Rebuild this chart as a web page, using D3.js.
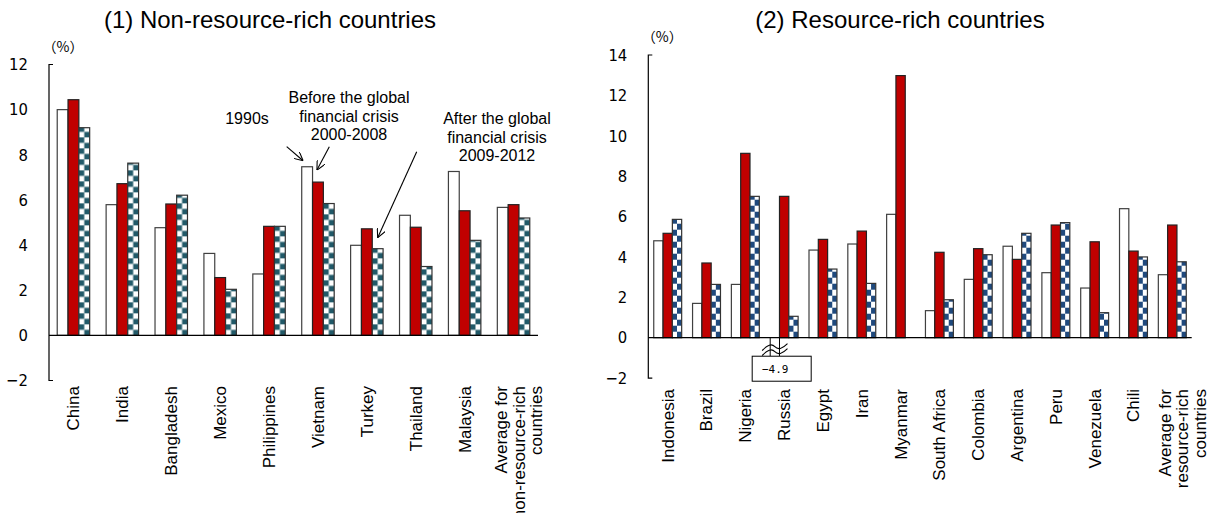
<!DOCTYPE html>
<html>
<head>
<meta charset="utf-8">
<script src="https://cdn.jsdelivr.net/npm/d3@7"></script>
<style>
  body { margin: 0; background: #fff; }
  text { font-family: Arial, "Liberation Sans", sans-serif; fill: #000; }
  .tick-lab { font-family: "Liberation Sans Narrow", "DejaVu Sans Condensed", Arial, sans-serif; }
</style>
</head>
<body>
<script>
'use strict';

// (1) non-resource-rich countries
const cats1 = ["China", "India", "Bangladesh", "Mexico", "Philippines", "Vietnam", "Turkey",
               "Thailand", "Malaysia", "Average for|non-resource-rich|countries"];
const s1990 = [10.0, 5.79, 4.77, 3.63, 2.72, 7.47, 3.99, 5.32, 7.26, 5.67];
const s2000 = [10.44, 6.72, 5.82, 2.56, 4.83, 6.79, 4.72, 4.79, 5.52, 5.79];
const s2009 = [9.2, 7.63, 6.21, 2.04, 4.83, 5.84, 3.84, 3.05, 4.21, 5.2];
const ticks1 = [-2, 0, 2, 4, 6, 8, 10, 12];

// (2) resource-rich countries
const cats2 = ["Indonesia", "Brazil", "Nigeria", "Russia", "Egypt", "Iran", "Myanmar", "South Africa",
               "Colombia", "Argentina", "Peru", "Venezuela", "Chili", "Average for|resource-rich|countries"];
const r1990 = [4.80, 1.70, 2.64, -4.9, 4.34, 4.64, 6.11, 1.34, 2.89, 4.53, 3.22, 2.46, 6.39, 3.12];
const r2000 = [5.17, 3.70, 9.13, 7.0, 4.87, 5.28, 12.98, 4.23, 4.41, 3.88, 5.58, 4.75, 4.29, 5.58];
const r2009 = [5.86, 2.64, 7.0, 1.06, 3.40, 2.69, null, 1.88, 4.11, 5.17, 5.70, 1.24, 4.0, 3.76];
const ticks2 = [-2, 0, 2, 4, 6, 8, 10, 12, 14];

const svg = d3.select('body').append('svg')
  .attr('width', 1207)
  .attr('height', 513);

const defs = svg.append('defs');
let patCount = 0;

// checkerboard fill anchored on a bar
function checker(color, x0, y0, w, h) {
  let id = 'pat' + (patCount++);
  let p = defs.append('pattern')
    .attr('id', id)
    .attr('patternUnits', 'userSpaceOnUse')
    .attr('x', x0).attr('y', y0)
    .attr('width', w * 2)
    .attr('height', h * 2);
  p.append('rect').attr('width', w * 2).attr('height', h * 2).attr('fill', '#fff');
  p.append('rect').attr('y', 0).attr('width', w).attr('height', h).attr('fill', color);
  p.append('rect').attr('x', w).attr('y', h).attr('width', w).attr('height', h).attr('fill', color);
  return 'url(#' + id + ')';
}

function drawPanel(opt) {
  const y = d3.scaleLinear().domain(opt.domain).range(opt.yRange);
  const x = d3.scaleBand().domain(opt.cats).range(opt.xRange).paddingInner(0).paddingOuter(0);
  const inner = d3.scaleBand().domain([0, 1, 2]).range([0, x.bandwidth()]).paddingOuter(opt.pad);
  const g = svg.append('g');

  // y axis (only end caps, no inner ticks)
  const yAxis = d3.axisLeft(y).tickValues(opt.ticks).tickSize(0).tickPadding(21)
    .tickFormat(d => d < 0 ? '\u2212' + Math.abs(d) : d);
  const ya = g.append('g')
    .attr('transform', `translate(${opt.xRange[0]},0)`)
    .call(yAxis);
  ya.select('.domain').attr('stroke', '#000').attr('stroke-width', 1.2)
    .attr('d', `M4,${y(opt.domain[1])}H0V${y(opt.domain[0])}H4`);
  ya.selectAll('.tick text').attr('class', 'tick-lab').style('font-size', '16.5px').attr('fill', '#000');

  // bars
  const series = [
    { vals: opt.a, color: null, fill: '#fff', stroke: '#404040' },
    { vals: opt.b, color: null, fill: '#C00000', stroke: '#222' },
    { vals: opt.c, color: opt.patColor, stroke: '#333' }
  ];
  series.forEach((s, si) => {
    const rows = opt.cats.map((c, i) => ({ c: c, v: s.vals[i] }))
      .filter(d => d.v !== null && !(opt.broken && d.c === opt.broken && si === 0));
    g.selectAll(null)
      .data(rows)
      .enter().append('rect')
      .attr('x', d => x(d.c) + inner(si))
      .attr('y', d => y(Math.max(0, d.v)))
      .attr('width', inner.bandwidth())
      .attr('height', d => Math.abs(y(d.v) - y(0)))
      .attr('fill', d => s.color ? checker(s.color, x(d.c) + inner(si), y(0), inner.bandwidth() / 2, opt.patH) : s.fill)
      .attr('stroke', s.stroke)
      .attr('stroke-width', 1.2);
  });

  // zero line
  g.append('line')
    .attr('x1', opt.xRange[0]).attr('x2', opt.xRange[1])
    .attr('y1', y(0)).attr('y2', y(0))
    .attr('stroke', '#000').attr('stroke-width', 1.2);

  // category labels
  const labs = g.selectAll(null)
    .data(opt.cats)
    .enter().append('text')
    .attr('transform', d => {
      let lines = d.split('|').length;
      let cx = x(d) + x.bandwidth() / 2 + (lines > 1 ? opt.avgShift : 0);
      return `translate(${cx},${opt.labTop}) rotate(-90)`;
    })
    .attr('text-anchor', 'end')
    .style('font-size', opt.labSize + 'px');
  labs.each(function(d) {
    const lines = d.split('|');
    const t = d3.select(this);
    lines.forEach((l, i) => {
      t.append('tspan')
        .attr('x', 0)
        .attr('dy', i === 0 ? (0.35 - (lines.length - 1) * 0.52) + 'em' : '1.04em')
        .text(l);
    });
  });

  // title and unit
  g.append('text')
    .attr('x', opt.titleX).attr('y', 28)
    .attr('text-anchor', 'middle')
    .style('font-size', '24px')
    .text(opt.title);
  g.append('text')
    .attr('x', opt.xRange[0] + 14).attr('y', y(opt.domain[1]) - 13)
    .attr('text-anchor', 'middle')
    .style('font-family', '"Noto Sans CJK JP", sans-serif')
    .style('font-size', '14px')
    .text('（%）');

  return { x: x, y: y, inner: inner, g: g };
}

const p1 = drawPanel({
  cats: cats1, a: s1990, b: s2000, c: s2009, ticks: ticks1, domain: [-2, 12],
  yRange: [380.5, 64.5], xRange: [49, 538], pad: 0.76, patColor: '#215968', patH: 5.5,
  labTop: 386, labSize: 17, avgShift: 5, titleX: 270, title: '(1) Non-resource-rich countries'
});

const p2 = drawPanel({
  cats: cats2, a: r1990, b: r2000, c: r2009, ticks: ticks2, domain: [-2, 14],
  yRange: [378.1, 55], xRange: [648.3, 1191.7], pad: 0.585, patColor: '#1F497D', patH: 6,
  broken: 'Russia', labTop: 389, labSize: 17, avgShift: 10, titleX: 900, title: '(2) Resource-rich countries'
});

// annotations on panel 1
const notes = [
  { lines: ['1990s'], x: 247, y: 124 },
  { lines: ['Before the global', 'financial crisis', '2000-2008'], x: 349, y: 103 },
  { lines: ['After the global', 'financial crisis', '2009-2012'], x: 497, y: 124 }
];
notes.forEach(n => {
  const t = p1.g.append('text').attr('text-anchor', 'middle').style('font-size', '16px');
  n.lines.forEach((l, i) => {
    t.append('tspan').attr('x', n.x).attr('y', n.y + i * 18.7).text(l);
  });
});

defs.append('marker')
  .attr('id', 'arr')
  .attr('viewBox', '0 0 10 10')
  .attr('refX', 10).attr('refY', 5)
  .attr('markerWidth', 9).attr('markerHeight', 9)
  .attr('markerUnits', 'userSpaceOnUse')
  .attr('orient', 'auto')
  .append('path')
  .attr('d', 'M0,0L10,5L0,10')
  .attr('fill', 'none')
  .attr('stroke', '#000')
  .attr('stroke-width', 1.2);

// arrows point at the bars they describe
const arrows = [
  { from: [286.7, 146.7], cat: 'Vietnam', s: 0, v: s1990[5], dx: -4, dy: -6 },
  { from: [329.3, 146.7], cat: 'Vietnam', s: 1, v: s2000[5], dx: -1, dy: -12 },
  { from: [416.7, 151.7], cat: 'Turkey', s: 2, v: s2009[6], dx: 0, dy: -11 }
];
arrows.forEach(a => {
  const tx = p1.x(a.cat) + p1.inner(a.s) + p1.inner.bandwidth() / 2 + a.dx;
  const ty = p1.y(a.v) + a.dy;
  p1.g.append('line')
    .attr('x1', a.from[0]).attr('y1', a.from[1])
    .attr('x2', tx).attr('y2', ty)
    .attr('stroke', '#000').attr('stroke-width', 1.1)
    .attr('marker-end', 'url(#arr)');
});

// broken bar for Russia 1990s (-4.9)
const ri = cats2.indexOf('Russia');
const bx = p2.x('Russia') + p2.inner(0);
const bw = p2.inner.bandwidth();
const boxTop = p2.y(0) + 18.5;
p2.g.append('line').attr('x1', bx).attr('x2', bx).attr('y1', p2.y(0)).attr('y2', boxTop).attr('stroke', '#000');
p2.g.append('line').attr('x1', bx + bw).attr('x2', bx + bw).attr('y1', p2.y(0)).attr('y2', boxTop).attr('stroke', '#000');
[0, 5].forEach(off => {
  const yy = p2.y(0) + 10 + off;
  p2.g.append('path')
    .attr('d', `M${bx - 8},${yy + 3} Q${bx},${yy - 6} ${bx + bw / 2},${yy - 1} T${bx + bw + 8},${yy - 4}`)
    .attr('fill', 'none').attr('stroke', '#000').attr('stroke-width', 1.1);
});
p2.g.append('rect')
  .attr('x', bx - 18).attr('y', boxTop)
  .attr('width', 59).attr('height', 25)
  .attr('fill', '#fff').attr('stroke', '#000');
p2.g.append('text')
  .attr('x', bx + 5).attr('y', boxTop + 17)
  .attr('text-anchor', 'middle')
  .style('font-family', '"DejaVu Sans Mono", monospace')
  .style('font-size', '11px')
  .text(d3.format('.1f')(r1990[ri]).replace('-', '\u2212'));
</script>
</body>
</html>
